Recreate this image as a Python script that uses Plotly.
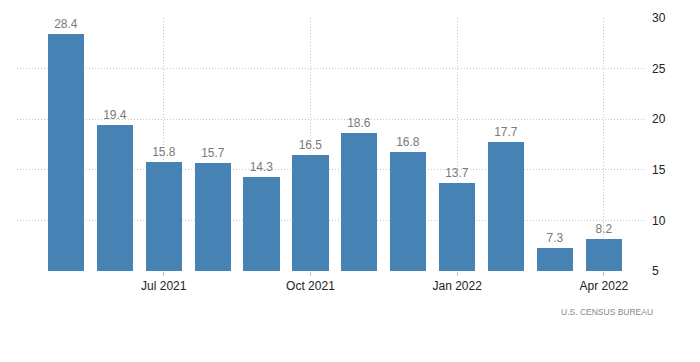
import plotly.graph_objects as go

months = ["May 2021", "Jun 2021", "Jul 2021", "Aug 2021", "Sep 2021", "Oct 2021",
          "Nov 2021", "Dec 2021", "Jan 2022", "Feb 2022", "Mar 2022", "Apr 2022"]
values = [28.4, 19.4, 15.8, 15.7, 14.3, 16.5, 18.6, 16.8, 13.7, 17.7, 7.3, 8.2]
tick_labels = ["Jul 2021", "Oct 2021", "Jan 2022", "Apr 2022"]
y_ticks = [5, 10, 15, 20, 25, 30]
source = "U.S. CENSUS BUREAU"

x = list(range(len(months)))
tick_pos = [months.index(t) for t in tick_labels]

fig = go.Figure()
fig.add_trace(go.Bar(
    x=x, y=[v - 5 for v in values], base=5,
    width=0.74,
    marker=dict(color="#4682B4", line=dict(width=0)),
    text=[f"{v:.1f}" for v in values],
    textposition="outside",
    textfont=dict(color="#7a7a7a", size=12, family="Liberation Sans"),
    cliponaxis=False,
    hoverinfo="skip",
))

fig.update_layout(
    width=692, height=354,
    margin=dict(l=9, r=55, t=10, b=91),
    plot_bgcolor="white", paper_bgcolor="white",
    showlegend=False,
    font=dict(family="Liberation Sans", size=12, color="#222"),
    bargap=0,
)
fig.update_xaxes(
    range=[-1, 11.84], automargin=False,
    tickmode="array", tickvals=tick_pos, ticktext=tick_labels,
    showgrid=True, gridcolor="#c8c8c8", griddash="1px,2px", gridwidth=1,
    ticks="outside", ticklen=4, tickcolor="#c0c0c0",
    showline=False, zeroline=False,
    tickfont=dict(size=12, color="#222"),
)
fig.update_yaxes(
    range=[5, 30], side="right", automargin=False,
    tickmode="array", tickvals=y_ticks,
    showgrid=True, gridcolor="#c8c8c8", griddash="1px,2px", gridwidth=1,
    zeroline=False, showline=False,
    ticks="", ticklabelstandoff=6,
    tickfont=dict(size=12, color="#222"),
)
fig.add_annotation(
    text=source, xref="paper", yref="paper", x=1.016, y=-0.162,
    xanchor="right", yanchor="middle", showarrow=False,
    font=dict(size=8.5, color="#8a8a8a", family="Liberation Sans"),
)
fig.write_html("out.html")
